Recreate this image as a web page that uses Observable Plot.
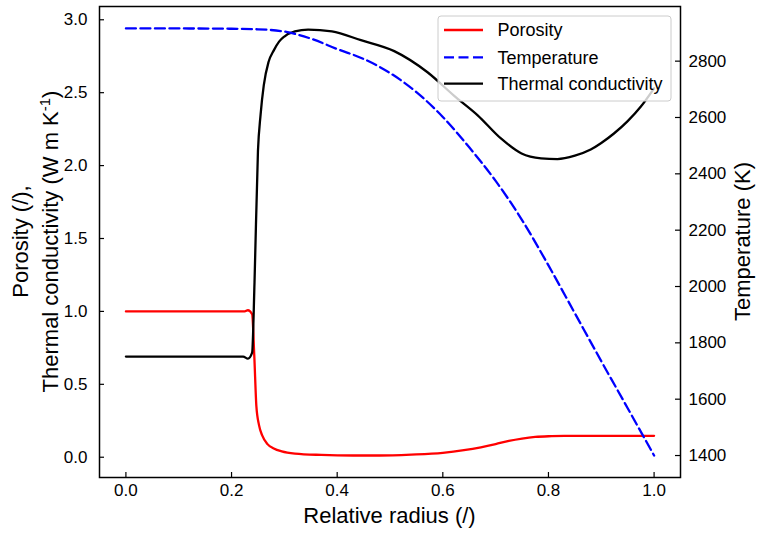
<!DOCTYPE html>
<html><head><meta charset="utf-8">
<script src="https://cdn.jsdelivr.net/npm/d3@7"></script>
<script src="https://cdn.jsdelivr.net/npm/@observablehq/plot@0.6"></script>
<style>body{margin:0;background:#fff} svg{display:block}</style>
</head><body><div id="chart"></div>
<script>
// ---- data ----
const radiusPorosity = [0, 0.1, 0.2, 0.225, 0.231, 0.239, 0.243, 0.247, 0.252, 0.258, 0.268, 0.28, 0.295, 0.32, 0.37, 0.43, 0.48, 0.54, 0.6, 0.64, 0.672, 0.7, 0.725, 0.75, 0.775, 0.8, 0.83, 0.9, 1.0];
const porosity = [1.0, 1.0, 1.0, 1.0, 1.008, 0.98, 0.70, 0.35, 0.22, 0.15, 0.09, 0.06, 0.04, 0.025, 0.016, 0.012, 0.012, 0.018, 0.03, 0.048, 0.068, 0.09, 0.112, 0.128, 0.139, 0.144, 0.146, 0.147, 0.147];

const radiusTemperature = [0, 0.1, 0.2, 0.25, 0.3, 0.35, 0.4, 0.45, 0.5, 0.55, 0.6, 0.65, 0.7, 0.75, 0.8, 0.85, 0.9, 0.95, 1.0];
const temperature = [2916, 2916, 2915, 2913, 2905, 2880, 2843, 2808, 2758, 2690, 2602, 2494, 2375, 2236, 2075, 1905, 1735, 1568, 1400];

const radiusConductivity = [0, 0.1, 0.2, 0.222, 0.231, 0.239, 0.2435, 0.25, 0.255, 0.261, 0.27, 0.28, 0.29, 0.30, 0.32, 0.345, 0.39, 0.445, 0.508, 0.571, 0.621, 0.666, 0.71, 0.749, 0.786, 0.817, 0.85, 0.88, 0.9, 0.924, 0.95, 0.975, 1.0];
const conductivity = [0.69, 0.69, 0.69, 0.69, 0.676, 0.717, 1.2, 2.1, 2.35, 2.55, 2.71, 2.79, 2.85, 2.885, 2.92, 2.933, 2.92, 2.86, 2.785, 2.64, 2.48, 2.345, 2.186, 2.083, 2.05, 2.045, 2.068, 2.11, 2.155, 2.22, 2.305, 2.405, 2.53];

const xTicks = [0, 0.2, 0.4, 0.6, 0.8, 1.0];
const leftTicks = [0, 0.5, 1.0, 1.5, 2.0, 2.5, 3.0];
const tempTicks = [1400, 1600, 1800, 2000, 2200, 2400, 2600, 2800];
const seriesNames = ["Porosity", "Temperature", "Thermal conductivity"];

// ---- layout ----
const FONT = '"Liberation Sans", Arial, Helvetica, sans-serif';
const W = 757, H = 533, mL = 99, mR = 77, mT = 6, mB = 56;
const plotW = W - mL - mR, plotH = H - mT - mB;
const xDomain = [-0.05, 1.05];
const yDomain = [-0.139, 3.091];
const tDomain = [1322, 2994];
const tToY = d3.scaleLinear().domain(tDomain).range(yDomain);

const porData = radiusPorosity.map((r, i) => ({r, v: porosity[i]}));
const tempData = radiusTemperature.map((r, i) => ({r, v: tToY(temperature[i])}));
const condData = radiusConductivity.map((r, i) => ({r, v: conductivity[i]}));

const chart = Plot.plot({
  width: W, height: H,
  marginLeft: mL, marginRight: mR, marginTop: mT, marginBottom: mB,
  style: {fontFamily: FONT, fontSize: "17px", color: "#000", background: "#fff", overflow: "visible"},
  x: {domain: xDomain},
  y: {domain: yDomain},
  marks: [
    Plot.line(porData, {x: "r", y: "v", stroke: "red", strokeWidth: 2.3, curve: "monotone-x"}),
    Plot.line(condData, {x: "r", y: "v", stroke: "black", strokeWidth: 2.3, curve: "monotone-x"}),
    Plot.line(tempData, {x: "r", y: "v", stroke: "blue", strokeWidth: 2.3, strokeDasharray: "10 4.5", curve: "monotone-x"}),
    Plot.axisX({ticks: xTicks, tickSize: 0, tickPadding: 6.5, tickFormat: d3.format(".1f"), label: null, fill: "#000"}),
    Plot.tickX(xTicks, {x: d => d, insetTop: plotH - 5, stroke: "#000", strokeWidth: 1.2}),
    Plot.axisY({anchor: "left", ticks: leftTicks, tickSize: 0, tickPadding: 12, tickFormat: d3.format(".1f"), label: null, fill: "#000"}),
    Plot.tickY(leftTicks, {y: d => d, insetRight: plotW - 5, stroke: "#000", strokeWidth: 1.2}),
    Plot.axisY({anchor: "right", ticks: tempTicks.map(tToY), tickSize: 0, tickPadding: 8,
                tickFormat: v => String(Math.round(tToY.invert(v))), label: null, fill: "#000"}),
    Plot.tickY(tempTicks, {y: d => tToY(d), insetLeft: plotW - 5, stroke: "#000", strokeWidth: 1.2}),
    Plot.frame({stroke: "#000", strokeWidth: 1.5})
  ]
});
document.getElementById("chart").appendChild(chart);

// ---- axis titles and legend ----
const svg = d3.select(chart);
const cy = mT + plotH / 2;
const lab = svg.append("g").attr("font-family", FONT).attr("font-size", 22).attr("fill", "#000");
lab.append("text").attr("x", mL + plotW / 2).attr("y", 523).attr("text-anchor", "middle").text("Relative radius (/)");
lab.append("text").attr("transform", `translate(28,${cy}) rotate(-90)`).attr("text-anchor", "middle").text("Porosity (/),");
const t2 = lab.append("text").attr("transform", `translate(57.5,${cy}) rotate(-90)`).attr("text-anchor", "middle");
t2.append("tspan").text("Thermal conductivity (W m K");
t2.append("tspan").attr("font-size", 15).attr("dy", -8).text("-1");
t2.append("tspan").attr("dy", 8).text(")");
lab.append("text").attr("transform", `translate(749.5,${cy}) rotate(-90)`).attr("text-anchor", "middle").text("Temperature (K)");

const leg = svg.append("g").attr("font-family", FONT).attr("font-size", 18).attr("text-anchor", "start");
leg.append("rect").attr("x", 438).attr("y", 16).attr("width", 233).attr("height", 85).attr("rx", 3)
  .attr("fill", "#fff").attr("fill-opacity", 0.8).attr("stroke", "#ccc").attr("stroke-width", 1);
const legStyles = [
  {stroke: "red", dash: null},
  {stroke: "blue", dash: "10 4.5"},
  {stroke: "black", dash: null}
];
const rowY = [30, 57.3, 83.6];
seriesNames.forEach((name, i) => {
  leg.append("line").attr("x1", 444).attr("x2", 483).attr("y1", rowY[i]).attr("y2", rowY[i])
    .attr("stroke", legStyles[i].stroke).attr("stroke-width", 2.3).attr("stroke-dasharray", legStyles[i].dash);
  leg.append("text").attr("x", 497.5).attr("y", rowY[i] + 6.4).attr("fill", "#000").attr("text-anchor", "start").text(name);
});
</script>
</body></html>
